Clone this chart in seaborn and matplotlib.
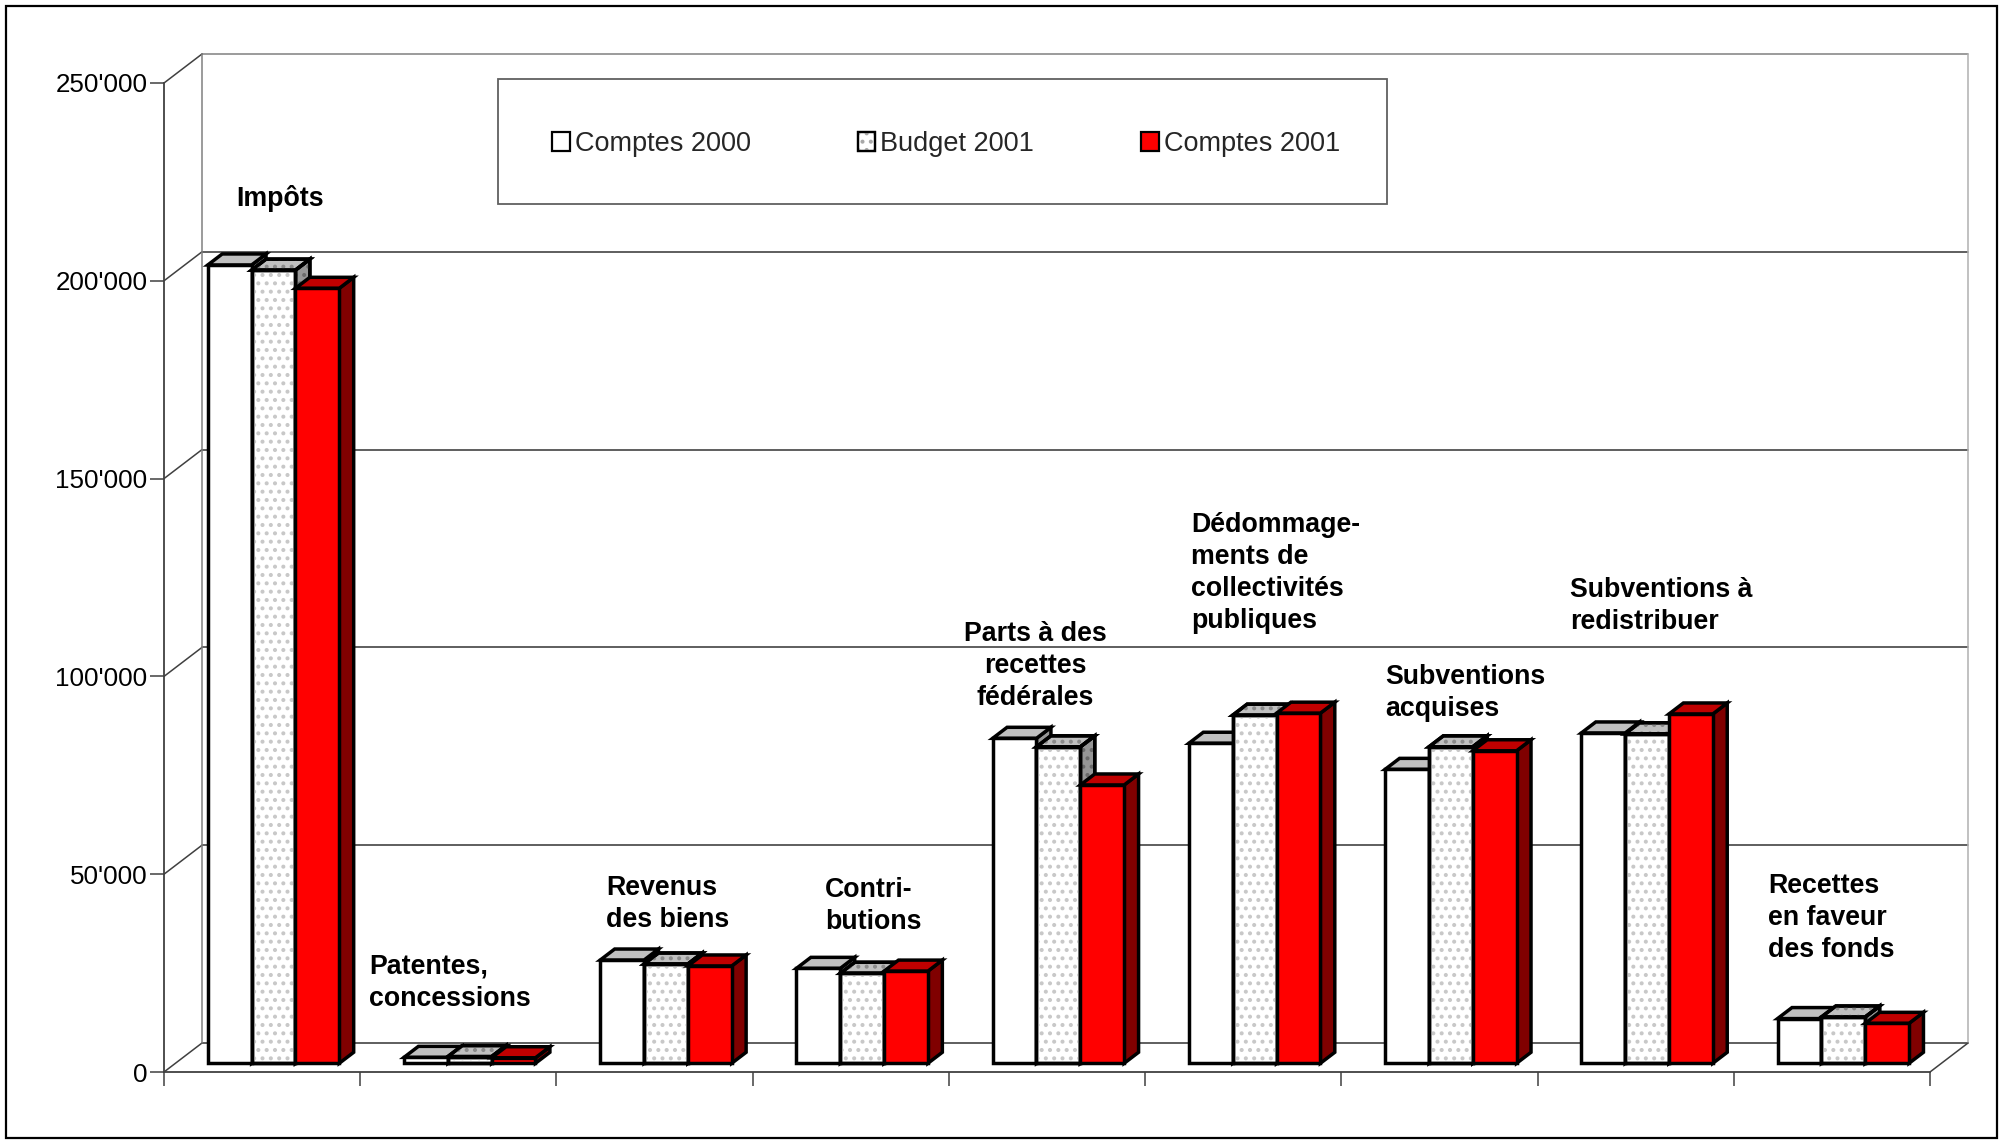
import numpy as np
import pandas as pd
import matplotlib
matplotlib.use("Agg")
import matplotlib.pyplot as plt
import seaborn as sns
from matplotlib.patches import Rectangle, Polygon, Patch
from matplotlib.legend_handler import HandlerTuple
from matplotlib.ticker import FuncFormatter

# ---------------- data ----------------
categories = ["Impôts", "Patentes, concessions", "Revenus des biens", "Contributions",
              "Parts à des recettes fédérales", "Dédommagements de collectivités publiques",
              "Subventions acquises", "Subventions à redistribuer", "Recettes en faveur des fonds"]
series = ["Comptes 2000", "Budget 2001", "Comptes 2001"]
comptes_2000 = [201800, 1500, 26100, 24000, 82150, 80900, 74300, 83500, 11300]
budget_2001 = [200500, 1700, 25100, 22750, 80000, 88000, 80000, 83300, 11700]
comptes_2001 = [195900, 1400, 24600, 23300, 70350, 88500, 79000, 88300, 10100]
label_texts = ["Impôts", "Patentes,\nconcessions", "Revenus\ndes biens", "Contri-\nbutions",
               "Parts à des\nrecettes\nfédérales", "Dédommage-\nments de\ncollectivités\npubliques",
               "Subventions\nacquises", "Subventions à\nredistribuer", "Recettes\nen faveur\ndes fonds"]
y_ticks = [0, 50000, 100000, 150000, 200000, 250000]

df = pd.DataFrame({
    "Catégorie": categories * 3,
    "Série": [s for s in series for _ in categories],
    "Valeur": comptes_2000 + budget_2001 + comptes_2001,
})

# ---------------- layout / style ----------------
W, H = 2004, 1145
AX_L, AX_R, AX_T, AX_B = 164, 1930, 83, 1072
YMAX = 250000
NCAT = len(categories)
DEPTH_PX = (38, 29)
label_layout = [(-0.133, 220900, "left"), (0.545, 22500, "left"), (1.753, 42470, "left"),
                (2.869, 41960, "left"), (3.939, 102700, "center"), (4.734, 126140, "left"),
                (5.723, 95800, "left"), (6.665, 117800, "left"), (7.675, 38930, "left")]
front_colors = ["#ffffff", "#ffffff", "#ff0000"]
top_colors = ["#c0c0c0", "#c0c0c0", "#c00000"]
side_colors = ["#969696", "#969696", "#800000"]
hatch_front, hatch_top, hatch_side = "#c8c8c8", "#8a8a8a", "#6a6a6a"
EDGE_LW = 2.5

sns.set_theme(style="white")
plt.rcParams["font.family"] = ["Liberation Sans", "DejaVu Sans"]
plt.rcParams["hatch.linewidth"] = 1.7

fig = plt.figure(figsize=(W / 100, H / 100), dpi=100)
fig.patch.set_facecolor("white")
ax = fig.add_axes([AX_L / W, 1 - AX_B / H, (AX_R - AX_L) / W, (AX_B - AX_T) / H])
ax.set_facecolor("none")

sns.barplot(data=df, x="Catégorie", y="Valeur", hue="Série", order=categories,
            hue_order=series, palette=front_colors, saturation=1, width=0.67,
            edgecolor="black", linewidth=EDGE_LW, errorbar=None, legend=False, ax=ax)

ax.set_xlim(-0.5, NCAT - 0.5)
ax.set_ylim(0, YMAX)
ax.set_xlabel("")
ax.set_ylabel("")

DX = DEPTH_PX[0] / ((AX_R - AX_L) / NCAT)
DY = DEPTH_PX[1] / ((AX_B - AX_T) / YMAX)
x_lo, x_hi = -0.5, NCAT - 0.5

# ---- walls and floor ----
for v in y_ticks:
    ax.plot([x_lo + DX, x_hi + DX], [v + DY, v + DY],
            color="#808080" if v == YMAX else "#333333", lw=1.1, clip_on=False, zorder=1)
    ax.plot([x_lo, x_lo + DX], [v, v + DY], color="#404040", lw=1.1, clip_on=False, zorder=1)
ax.plot([x_lo + DX] * 2, [DY, YMAX + DY], color="#808080", lw=1.1, clip_on=False, zorder=1)
ax.plot([x_hi + DX] * 2, [DY, YMAX + DY], color="#b0b0b0", lw=1.1, clip_on=False, zorder=1)
ax.plot([x_hi, x_hi + DX], [0, DY], color="#404040", lw=1.1, clip_on=False, zorder=1)

# ---- 3D bars from seaborn patches ----
f0, fd = 0.30, 0.38
bx, by = fd * DX, fd * DY


def face(verts, fc, z, hcol=None):
    ax.add_patch(Polygon(verts, closed=True, facecolor=fc, edgecolor="black", lw=EDGE_LW,
                         joinstyle="miter", zorder=z, clip_on=False))
    if hcol is not None:
        ax.add_patch(Polygon(verts, closed=True, facecolor="none", edgecolor=hcol, hatch="..",
                             lw=0, zorder=z + 0.0001, clip_on=False))
        ax.add_patch(Polygon(verts, closed=True, fill=False, edgecolor="black", lw=EDGE_LW,
                             joinstyle="miter", zorder=z + 0.0002, clip_on=False))


for hi, cont in enumerate(ax.containers):
    for bar in cont:
        x0 = bar.get_x() + f0 * DX
        w = bar.get_width()
        h = bar.get_height()
        y0 = f0 * DY
        bar.set_x(x0)
        bar.set_y(y0)
        bar.set_joinstyle("miter")
        z = 3 + (x0 + 1)
        bar.set_zorder(z + 0.002)
        bar.set_clip_on(False)
        hatched = hi == 1
        top = [(x0, y0 + h), (x0 + w, y0 + h), (x0 + w + bx, y0 + h + by), (x0 + bx, y0 + h + by)]
        side = [(x0 + w, y0), (x0 + w + bx, y0 + by), (x0 + w + bx, y0 + h + by), (x0 + w, y0 + h)]
        face(side, side_colors[hi], z, hatch_side if hatched else None)
        face(top, top_colors[hi], z, hatch_top if hatched else None)
        if hatched:
            ax.add_patch(Rectangle((x0, y0), w, h, facecolor="none", edgecolor=hatch_front,
                                   hatch="..", lw=0, zorder=z + 0.003, clip_on=False))
            ax.add_patch(Rectangle((x0, y0), w, h, fill=False, edgecolor="black", lw=EDGE_LW,
                                   joinstyle="miter", zorder=z + 0.004, clip_on=False))

# ---- axes ----
for s in ["top", "right"]:
    ax.spines[s].set_visible(False)
for s in ["left", "bottom"]:
    ax.spines[s].set_color("#404040")
    ax.spines[s].set_linewidth(1.3)
ax.set_xticks(np.arange(-0.5, NCAT, 1.0))
ax.set_xticklabels([])
ax.set_yticks(y_ticks)
ax.yaxis.set_major_formatter(FuncFormatter(lambda v, _: f"{int(v):,}".replace(",", "'")))
ax.tick_params(axis="both", direction="out", length=10, width=1.1, color="#404040",
               left=True, bottom=True)
ax.tick_params(axis="y", labelsize=18.7, pad=2, labelcolor="black")
ax.grid(False)

# ---- category labels ----
for (x, y, ha), t in zip(label_layout, label_texts):
    ax.text(x, y, t, ha=ha, va="center", multialignment=ha, fontsize=19.3, fontweight="bold",
            linespacing=1.3, color="black", clip_on=False, zorder=30)

# ---- legend ----
fig.add_artist(Rectangle((498 / W, 1 - 204 / H), (1387 - 498) / W, (204 - 79) / H,
                         transform=fig.transFigure, facecolor="white", edgecolor="#606060",
                         lw=1.3, zorder=2))
h1 = Patch(facecolor="white", edgecolor="black", lw=1.6)
h2 = (Patch(facecolor="white", edgecolor="black", lw=1.6),
      Patch(facecolor="none", edgecolor="#a8a8a8", hatch="..", lw=0),
      Patch(fill=False, edgecolor="black", lw=1.6))
h3 = Patch(facecolor="#ff0000", edgecolor="black", lw=1.6)
leg = fig.legend(handles=[h1, h2, h3], labels=series, loc="center",
                 bbox_to_anchor=(946 / W, 1 - 144 / H), bbox_transform=fig.transFigure,
                 ncol=3, frameon=False, fontsize=19.5, handlelength=0.66, handleheight=0.66,
                 handletextpad=0.18, columnspacing=3.95,
                 handler_map={tuple: HandlerTuple(ndivide=1, pad=0)})
leg.set_zorder(5)

# ---- outer border ----
fig.add_artist(Rectangle((6 / W, 1 - 1138 / H), (1997 - 6) / W, (1138 - 6) / H,
                         transform=fig.transFigure, fill=False, edgecolor="black", lw=1.6,
                         zorder=10))

fig.savefig("out.png", dpi=100, facecolor="white")
